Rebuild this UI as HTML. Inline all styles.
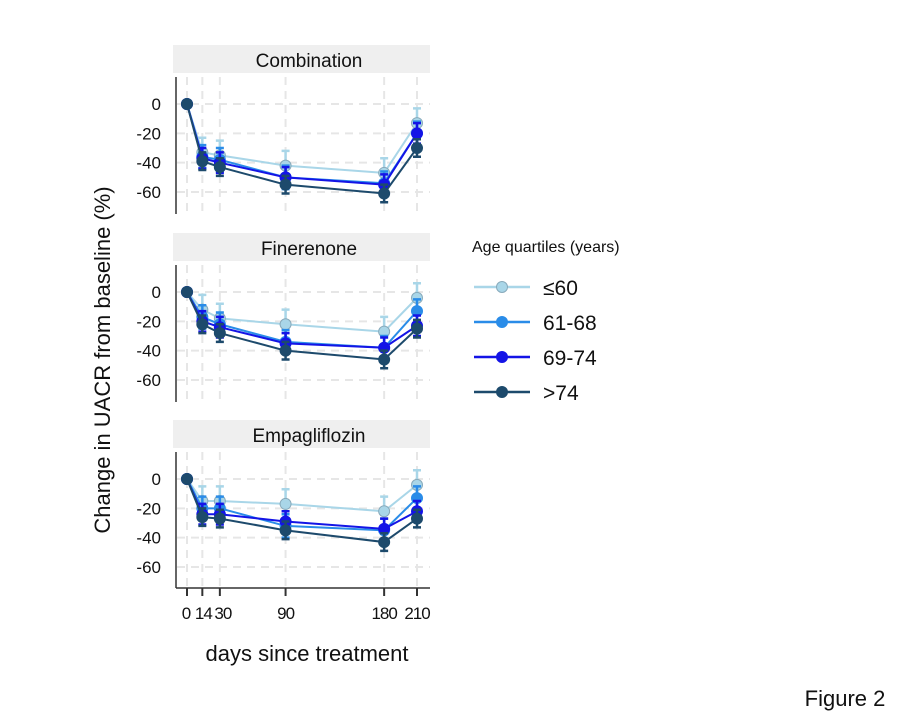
<!DOCTYPE html>
<html><head><meta charset="utf-8"><style>
body{margin:0;background:#fff;}
svg{display:block;font-family:"Liberation Sans",Arial,sans-serif;}
</style></head><body>
<svg id="chart" width="916" height="720">
<g id="g"></g>
</svg>
<script>
const days=[0,14,30,90,180,210];
const xTickLabels=["0","14","30","90","180","210"];
const yTicks=[0,-20,-40,-60];
const panelNames=["Combination","Finerenone","Empagliflozin"];
const groups=["≤60","61-68","69-74",">74"];
const combination=[[0,-33,-35,-42,-47,-13],[0,-36,-38,-50,-54,-20],[0,-37,-40,-50,-55,-20],[0,-39,-43,-55,-61,-30]];
const finerenone=[[0,-12,-18,-22,-27,-4],[0,-17,-22,-34,-38,-13],[0,-20,-24,-35,-38,-23],[0,-22,-28,-40,-46,-25]];
const empagliflozin=[[0,-15,-15,-17,-22,-4],[0,-20,-20,-32,-35,-13],[0,-24,-24,-29,-34,-22],[0,-26,-27,-35,-43,-27]];
const errs=[10,8,7,6];
const colors=["#a9d6e8","#2a8ce8","#1414e6","#1d4a6c"];
const panelData=[combination,finerenone,empagliflozin];
const zeroY=[104,292,479];
const NS="http://www.w3.org/2000/svg";
const g=document.getElementById('g');
function el(t,a,p){const e=document.createElementNS(NS,t);for(const k in a)e.setAttribute(k,a[k]);(p||g).appendChild(e);return e;}
const xs=d=>187+d*(230/210);
panelData.forEach((data,pi)=>{
 const y0=zeroY[pi];
 const ys=v=>y0-v*(88/60);
 const pg=el('g',{});
 
 
 const strip=el('rect',{x:173,y:y0-59,width:257,height:28,fill:'#efefef'},pg);
 
 
 const st=el('text',{x:309,y:y0-37,'text-anchor':'middle','font-size':19,fill:'#111'},pg);
 st.textContent=panelNames[pi];
 
 
 const bottom=pi==2?588:y0+110;
 days.forEach(d=>{const l=el('line',{x1:xs(d),x2:xs(d),y1:y0-27,y2:bottom,stroke:'#e6e6e6','stroke-width':2,'stroke-dasharray':'8,6'},pg);});
 yTicks.forEach(t=>{const l=el('line',{x1:177,x2:430,y1:ys(t),y2:ys(t),stroke:'#e6e6e6','stroke-width':2,'stroke-dasharray':'8,6'},pg);
  const tt=el('text',{x:161,y:ys(t)+6,'text-anchor':'end','font-size':17,fill:'#111'},pg);tt.textContent=t;});
 const ax=el('line',{x1:176,x2:176,y1:y0-27,y2:bottom,stroke:'#333','stroke-width':1.5},pg);
 
 data.forEach((ser,si)=>{
  const pts=ser.map((v,i)=>xs(days[i])+','+ys(v)).join(' ');
  const pl=el('polyline',{points:pts,fill:'none',stroke:colors[si],'stroke-width':2},pg);
  
  ser.forEach((v,i)=>{
   if(i>0){const e=errs[si];const x=xs(days[i]);
    const eb=el('path',{d:`M${x},${ys(v+e)}V${ys(v-e)}M${x-4},${ys(v+e)}h8M${x-4},${ys(v-e)}h8`,stroke:colors[si],'stroke-width':2.5,fill:'none'},pg);
    }
   const c=el('circle',{cx:xs(days[i]),cy:ys(v),r:5.5,fill:colors[si],stroke:si==0?'#8ab':colors[si]},pg);
   
  });
 });
});
const xa=el('line',{x1:176,x2:430,y1:588,y2:588,stroke:'#333','stroke-width':1.5});

days.forEach((d,i)=>{el('line',{x1:xs(d),x2:xs(d),y1:588,y2:596,stroke:'#333','stroke-width':2});
 const t=el('text',{x:xs(d)+(i==0?-1:i==1?1:i==2?3:0),y:619,'text-anchor':'middle','font-size':17,fill:'#111','letter-spacing':-1});t.textContent=xTickLabels[i];
 });
const xt=el('text',{x:307,y:661,'text-anchor':'middle','font-size':22,fill:'#111'});xt.textContent='days since treatment';

const yt=el('text',{x:0,y:0,'text-anchor':'middle','font-size':22,fill:'#111',transform:'translate(110,360) rotate(-90)'});yt.textContent='Change in UACR from baseline (%)';

const lt=el('text',{x:472,y:252,'font-size':16,fill:'#111'});lt.textContent='Age quartiles (years)';

groups.forEach((gname,i)=>{const y=287+i*35;
 const lg=el('g',{});
 el('line',{x1:474,x2:530,y1:y,y2:y,stroke:colors[i],'stroke-width':2.5},lg);
 el('circle',{cx:502,cy:y,r:5.5,fill:colors[i],stroke:i==0?'#8ab':colors[i]},lg);
 const t=el('text',{x:543,y:y+8,'font-size':21,fill:'#111'},lg);t.textContent=gname;});
const fg=el('text',{x:845,y:706,'text-anchor':'middle','font-size':22,fill:'#111'});fg.textContent='Figure 2';

</script>
</body></html>
